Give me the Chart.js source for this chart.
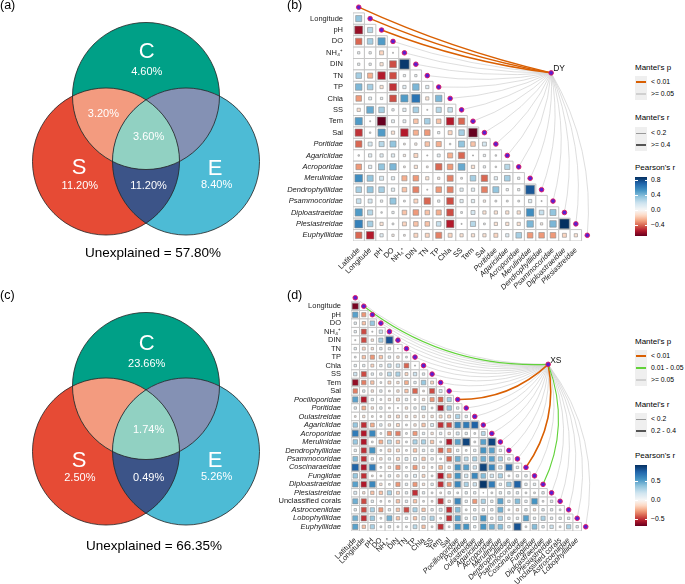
<!DOCTYPE html>
<html>
<head>
<meta charset="utf-8">
<script src="https://cdn.jsdelivr.net/npm/chart.js@4.4.1/dist/chart.umd.min.js"></script>
<style>
  body { margin: 0; background: #fff; }
  #fig { position: relative; width: 685px; height: 584px; overflow: hidden; font-family: "Liberation Sans", Arial, sans-serif; color: #000; }
  #fig canvas { position: absolute; }
  .txt { position: absolute; white-space: nowrap; line-height: 1; }
  .box { position: absolute; }
</style>
</head>
<body>
<div id="fig">
  <canvas id="vennA" width="292" height="270"></canvas>
  <canvas id="vennC" width="292" height="270"></canvas>
  <canvas id="heatB" width="326" height="308"></canvas>
  <canvas id="heatD" width="325" height="306"></canvas>
</div>
<script>
const FAMILY = "'Liberation Sans', Arial, sans-serif";

// (a) and (c): variation partitioning, % explained
const vennRegions = ['C', 'S', 'E', 'SC', 'CE', 'SE', 'SCE'];
const vennValuesA = [4.60, 11.20, 8.40, 3.20, null, 11.20, 3.60];
const vennValuesC = [23.66, 2.50, 5.26, null, null, 0.49, 1.74];
const unexplainedA = 57.80;
const unexplainedC = 66.35;

// Mantel categories
const P1 = '< 0.01', P2 = '0.01 - 0.05', P3 = '>= 0.05';
const R1 = '< 0.2', R2 = '0.2 - 0.4', R3 = '>= 0.4';

// (b) DY
const varsB = ['Latitude', 'Longitude', 'pH', 'DO', 'NH₄⁺', 'DIN', 'TN', 'TP', 'Chla', 'SS', 'Tem', 'Sal',
  'Poritidae', 'Agariciidae', 'Acroporidae', 'Merulinidae', 'Dendrophylliidae', 'Psammocoridae',
  'Diploastraeidae', 'Plesiastreidae', 'Euphylliidae'];
const corrB = [
  [0.35],
  [-0.6, 0.25],
  [-0.4, 0.3, 0.5],
  [0.05, 0.05, -0.15, 0.01],
  [0.05, 0.05, -0.1, -0.45, 0.85],
  [0.3, -0.25, -0.55, -0.45, 0.05, 0.05],
  [0.4, 0.3, -0.1, -0.5, 0.1, 0.4, 0.1],
  [-0.3, 0.08, 0.05, -0.45, 0.5, 0.65, -0.1, 0.4],
  [-0.1, 0.45, 0.3, 0.05, 0.1, 0.3, 0.01, 0.25, 0.2],
  [0.5, 0.01, -0.7, 0.08, 0.08, -0.2, 0.3, -0.2, -0.55, -0.4],
  [-0.5, 0.02, 0.5, -0.1, -0.55, -0.25, -0.3, 0.05, -0.15, 0.3, -0.7],
  [-0.4, 0.15, 0.25, 0.35, -0.03, -0.05, -0.2, -0.25, 0.02, 0.35, -0.2, 0.15],
  [0.02, 0.1, 0.1, 0.1, -0.05, -0.15, 0.01, 0.08, -0.25, -0.4, 0.01, 0.05, 0.02],
  [-0.3, 0.1, 0.35, 0.4, -0.03, -0.1, -0.03, -0.4, -0.3, 0.45, -0.1, 0.05, 0.02, 0.25],
  [0.55, 0.35, 0.15, 0.1, -0.25, -0.3, -0.1, -0.05, -0.35, 0.03, 0.3, -0.4, 0.1, 0.3, 0.05],
  [0.3, 0.35, 0.3, 0.1, -0.2, -0.35, 0.01, -0.3, -0.35, 0.1, 0.1, -0.35, 0.35, 0.05, 0.05, 0.75],
  [0.2, 0.15, 0.05, 0.35, 0.03, -0.15, -0.4, 0.05, -0.45, 0.1, 0.1, -0.05, 0.03, 0.03, 0.03, 0.1, 0.01],
  [0.5, 0.25, 0.02, 0.05, -0.2, -0.3, -0.2, -0.25, -0.45, 0.03, 0.15, -0.1, -0.1, -0.1, -0.1, 0.55, 0.2, 0.35],
  [0.6, 0.3, -0.1, 0.03, -0.15, -0.2, -0.2, 0.2, -0.55, 0.01, 0.25, 0.03, -0.1, -0.1, -0.1, 0.4, -0.05, 0.4, 0.88],
  [-0.4, -0.55, 0.1, -0.05, -0.03, -0.15, -0.15, -0.35, -0.15, -0.1, -0.1, -0.1, -0.15, 0.1, 0.3, -0.3, -0.3, -0.3, -0.15, -0.1]
];
const mantelPB = [P1, P1, P1, P3, P3, P3, P3, P3, P3, P3, P3, P3, P3, P3, P3, P3, P3, P3, P3, P3, P3];
const mantelRB = [R3, R3, R3, R1, R1, R1, R1, R1, R1, R1, R1, R1, R1, R1, R1, R1, R1, R1, R1, R1, R1];

// (d) XS
const varsD = ['Latitude', 'Longitude', 'pH', 'DO', 'NH₄⁺', 'DIN', 'TN', 'TP', 'Chla', 'SS', 'Tem', 'Sal',
  'Pocilloporidae', 'Poritidae', 'Oulastreidae', 'Agariciidae', 'Acroporidae', 'Merulinidae',
  'Dendrophylliidae', 'Psammocoridae', 'Coscinaraeidae', 'Fungiidae', 'Diploastraeidae', 'Plesiastreidae',
  'Unclassified corals', 'Astrocoeniidae', 'Lobophylliidae', 'Euphylliidae'];
const corrD = [
  [-0.65],
  [0.5, -0.3],
  [0.1, -0.2, 0.35],
  [0.1, -0.45, 0.02, 0.2],
  [0.02, -0.45, -0.1, 0.3, 0.8],
  [0.1, -0.15, -0.1, 0.1, 0.1, 0.01],
  [0.05, -0.2, -0.3, -0.2, 0.1, -0.1, 0.05],
  [0.1, 0.1, -0.15, 0.1, 0.2, 0.2, -0.4, 0.02],
  [0.2, -0.45, 0.1, 0.1, 0.25, 0.3, -0.15, 0.2, 0.1],
  [-0.6, -0.35, -0.2, 0.05, -0.15, -0.1, -0.25, 0.1, 0.35, -0.15],
  [-0.35, 0.1, -0.1, 0.1, -0.05, -0.1, -0.2, -0.4, -0.05, -0.45, 0.15],
  [0.5, -0.55, 0.1, 0.05, -0.1, -0.15, 0.1, -0.05, -0.1, -0.3, -0.4, 0.3],
  [0.1, -0.25, -0.1, 0.1, -0.05, 0.02, -0.1, 0.1, 0.25, 0.05, -0.55, 0.35, 0.1],
  [-0.05, -0.1, -0.05, -0.05, -0.1, -0.15, -0.1, -0.1, -0.1, -0.1, -0.15, -0.15, 0.3, 0.1],
  [0.35, -0.5, -0.25, 0.1, -0.1, -0.15, 0.05, -0.1, -0.2, 0.15, -0.5, -0.45, 0.6, 0.65, 0.75],
  [0.65, -0.55, 0.6, 0.05, -0.3, -0.35, 0.05, -0.3, 0.1, -0.1, 0.1, -0.1, 0.15, 0.1, 0.05, 0.25],
  [0.35, -0.55, 0.05, -0.25, 0.25, -0.2, 0.05, 0.3, 0.3, -0.2, 0.05, -0.55, 0.5, 0.85, 0.05, 0.5, 0.85],
  [0.1, -0.5, 0.55, 0.05, -0.15, -0.15, 0.05, -0.2, 0.1, 0.1, -0.4, -0.3, 0.1, 0.05, 0.1, 0.55, 0.5, 0.1],
  [0.4, -0.5, 0.1, -0.1, 0.1, -0.15, 0.15, 0.15, -0.2, 0.1, 0.05, -0.4, 0.45, 0.25, 0.3, 0.45, 0.5, 0.3, 0.1],
  [0.75, -0.55, 0.65, 0.05, -0.1, -0.3, 0.05, -0.3, -0.1, 0.05, -0.25, -0.1, 0.55, 0.5, 0.2, 0.85, 0.6, 0.2, 0.7, 0.1],
  [0.35, -0.5, -0.05, -0.05, 0.1, -0.1, 0.1, 0.15, -0.15, 0.05, -0.55, -0.3, 0.55, 0.2, 0.6, 0.4, 0.2, 0.3, 0.05, 0.1, 0.1],
  [0.5, -0.55, 0.6, -0.1, 0.05, -0.3, 0.1, -0.3, -0.1, 0.1, -0.5, -0.3, 0.6, 0.3, 0.2, 0.9, 0.65, 0.1, 0.35, 0.75, 0.1, 0.1],
  [0.15, -0.1, -0.2, -0.2, 0.3, -0.15, 0.1, -0.5, 0.1, 0.05, -0.05, 0.1, 0.05, 0.1, 0.1, 0.01, 0.05, 0.1, 0.1, 0.1, 0.05, 0.05, 0.1],
  [0.45, -0.45, 0.1, 0.05, 0.05, -0.2, 0.1, -0.2, 0.05, -0.05, -0.5, -0.1, 0.6, 0.1, -0.3, 0.3, 0.1, 0.5, 0.1, 0.4, 0.1, 0.55, 0.05, 0.1],
  [0.1, -0.45, 0.3, -0.3, 0.1, -0.2, -0.45, 0.3, -0.2, 0.1, 0.15, -0.5, 0.4, 0.05, 0.1, 0.1, 0.1, 0.45, 0.05, -0.1, 0.1, -0.1, 0.1, 0.1, 0.05],
  [0.45, -0.5, 0.35, 0.05, 0.45, -0.2, 0.1, -0.2, 0.2, 0.3, 0.05, -0.5, 0.5, 0.1, 0.2, 0.55, 0.1, 0.3, 0.1, 0.1, 0.5, 0.1, 0.3, 0.1, 0.1, 0.1],
  [0.5, -0.2, 0.3, 0.05, 0.1, 0.05, 0.05, 0.25, -0.2, 0.05, -0.5, 0.05, 0.55, 0.55, 0.1, 0.55, 0.45, 0.4, 0.1, 0.8, 0.05, 0.4, 0.1, 0.2, 0.05, 0.3, 0.1]
];
const mantelPD = [P3, P2, P3, P3, P3, P3, P3, P3, P3, P3, P3, P3, P1, P3, P3, P3, P3, P3, P3, P3, P1, P3, P2, P3, P3, P3, P3, P3];
const mantelRD = [R1, R1, R1, R1, R1, R1, R1, R1, R1, R1, R1, R1, R2, R1, R1, R1, R1, R1, R1, R1, R2, R1, R1, R1, R1, R1, R1, R1];

const plainLabels = new Set(['Latitude', 'Longitude', 'pH', 'DO', 'NH₄⁺', 'DIN', 'TN', 'TP', 'Chla', 'SS', 'Tem', 'Sal', 'Unclassified corals']);

const pColors = { [P1]: '#D95F02', [P2]: '#62D23A', [P3]: '#D0D0D0' };
const rWidths = { [R1]: 0.7, [R2]: 1.6, [R3]: 1.4 };
const rKeyColors = { [R1]: '#999999', [R2]: '#555555', [R3]: '#555555' };
const rKeyWidths = { [R1]: 1, [R2]: 1.8, [R3]: 1.8 };

const rdbu = ['#67001F', '#B2182B', '#D6604D', '#F4A582', '#FDDBC7', '#F7F7F7',
  '#D1E5F0', '#92C5DE', '#4393C3', '#2166AC', '#053061'];
const hexRgb = h => [1, 3, 5].map(i => parseInt(h.slice(i, i + 2), 16));

function corrColor(v, lo, hi) {
  const t = v < 0 ? 5 - 5 * Math.min(v / lo, 1) : 5 + 5 * Math.min(v / hi, 1);
  const i = Math.min(Math.floor(t), 9), f = t - i;
  const a = hexRgb(rdbu[i]), b = hexRgb(rdbu[i + 1]);
  return 'rgb(' + a.map((c, k) => Math.round(c + (b[k] - c) * f)).join(',') + ')';
}

// ---------- Venn panels ----------
const vennCenters = { C: [0, 0.449], S: [-0.544, -0.442], E: [0.544, -0.442] };
const vennFill = { C: '#00A087', S: '#E64B35', E: '#4DBBD5', SC: '#F39B7F', CE: '#8491B4', SE: '#3C5488', SCE: '#91D1C2' };
const vennLetterPos = { C: [0.01, 1.05], S: [-0.91, -0.53], E: [0.94, -0.54] };
const vennLabelPos = { C: [0.01, 0.78], S: [-0.9, -0.77], E: [0.96, -0.76], SC: [-0.58, 0.2], CE: [0.58, 0.2], SE: [0.035, -0.77], SCE: [0.035, -0.11] };

const unitPx = chart => chart.scales.x.getPixelForValue(1) - chart.scales.x.getPixelForValue(0);

function vennOverlay(values, shift) {
  return {
    id: 'vennOverlay',
    afterDatasetsDraw(chart) {
      const { ctx, scales: { x, y } } = chart;
      const R = unitPx(chart);
      const circle = s => {
        ctx.beginPath();
        ctx.arc(x.getPixelForValue(vennCenters[s][0]), y.getPixelForValue(vennCenters[s][1]), R, 0, Math.PI * 2);
      };
      const overlap = (sets, color) => {
        ctx.save();
        sets.slice(0, -1).forEach(s => { circle(s); ctx.clip(); });
        circle(sets[sets.length - 1]);
        ctx.fillStyle = color;
        ctx.fill();
        ctx.restore();
      };
      overlap(['S', 'C'], vennFill.SC);
      overlap(['C', 'E'], vennFill.CE);
      overlap(['S', 'E'], vennFill.SE);
      overlap(['S', 'C', 'E'], vennFill.SCE);

      ctx.save();
      ctx.strokeStyle = '#222';
      ctx.lineWidth = 0.8;
      ['S', 'C', 'E'].forEach(s => { circle(s); ctx.stroke(); });
      ctx.fillStyle = '#fff';
      ctx.textAlign = 'center';
      ctx.textBaseline = 'middle';
      ctx.font = `22px ${FAMILY}`;
      Object.keys(vennLetterPos).forEach(s => {
        const p = vennLetterPos[s];
        ctx.fillText(s, x.getPixelForValue(p[0]), y.getPixelForValue(p[1]) + shift);
      });
      ctx.font = `11px ${FAMILY}`;
      vennRegions.forEach((reg, i) => {
        if (values[i] == null) return;
        const p = vennLabelPos[reg];
        ctx.fillText(values[i].toFixed(2) + '%', x.getPixelForValue(p[0]), y.getPixelForValue(p[1]) + shift);
      });
      ctx.restore();
    }
  };
}

function makeVenn(id, values, top, shift) {
  const cv = document.getElementById(id);
  cv.style.left = '0px';
  cv.style.top = top + 'px';
  const sets = ['S', 'C', 'E'];
  return new Chart(cv, {
    type: 'scatter',
    data: {
      datasets: [{
        data: sets.map(s => ({ x: vennCenters[s][0], y: vennCenters[s][1] })),
        backgroundColor: sets.map(s => vennFill[s]),
        borderWidth: 0,
        pointStyle: 'circle',
        radius: ctx => ctx.chart.scales.x ? unitPx(ctx.chart) : 0
      }]
    },
    options: {
      responsive: false,
      animation: false,
      events: [],
      layout: { padding: 0 },
      plugins: { legend: { display: false }, tooltip: { enabled: false } },
      scales: {
        x: { type: 'linear', display: false, min: -1.986, max: 1.986 },
        y: { type: 'linear', display: false, min: -1.918, max: 1.755 }
      }
    },
    plugins: [vennOverlay(values, shift)]
  });
}

// ---------- correlation + Mantel panels ----------
function linkPlugin(P) {
  return {
    id: 'mantelLinks',
    beforeDatasetsDraw(chart) {
      const { ctx, scales: { x, y } } = chart;
      const ax = x.getPixelForValue(P.anchor.x), ay = y.getPixelForValue(P.anchor.y);
      const n = P.vars.length;
      const order = P.vars.map((_, k) => k)
        .sort((a, b) => (P.mantelP[a] === P3 ? 0 : 1) - (P.mantelP[b] === P3 ? 0 : 1));
      ctx.save();
      ctx.lineCap = 'round';
      order.forEach(k => {
        const dx = x.getPixelForValue(k), dy = y.getPixelForValue(k - 1);
        const vx = dx - ax, vy = dy - ay;
        const bend = P.curv[0] + (P.curv[1] - P.curv[0]) * k / (n - 1);
        const cx = (ax + dx) / 2 + bend * vy, cy = (ay + dy) / 2 - bend * vx;
        ctx.beginPath();
        ctx.moveTo(ax, ay);
        ctx.quadraticCurveTo(cx, cy, dx, dy);
        ctx.strokeStyle = pColors[P.mantelP[k]];
        const w = rWidths[P.mantelR[k]];
        ctx.lineWidth = P.mantelP[k] === P3 ? w : Math.max(w, 1.1);
        ctx.stroke();
      });
      ctx.restore();
    },
    afterDatasetsDraw(chart) {
      const { ctx, scales: { x, y } } = chart;
      ctx.save();
      ctx.fillStyle = '#111';
      ctx.font = `8.5px ${FAMILY}`;
      ctx.textAlign = 'left';
      ctx.textBaseline = 'alphabetic';
      ctx.fillText(P.anchorLabel, x.getPixelForValue(P.anchor.x) + 2, y.getPixelForValue(P.anchor.y) - 1.5);
      ctx.restore();
    }
  };
}

function heatmap(id, P) {
  const n = P.vars.length;
  const cells = [];
  P.corr.forEach((row, r) => row.forEach((v, j) => cells.push({ x: j, y: r, v })));
  const nodes = P.vars.map((_, k) => ({ x: k, y: k - 1 }));
  const pitch = c => Math.abs(c.scales.x.getPixelForValue(1) - c.scales.x.getPixelForValue(0));
  const tickFont = label => ({ family: FAMILY, size: P.fontSize, style: plainLabels.has(label) ? 'normal' : 'italic' });
  const nodeStyle = { pointStyle: 'circle', radius: 2.3, backgroundColor: '#5A1FD0', borderColor: '#E3175D', borderWidth: 0.9 };
  const cv = document.getElementById(id);
  const chart = new Chart(cv, {
    type: 'scatter',
    data: {
      datasets: [
        { data: cells.slice(), order: 4, pointStyle: 'rect', backgroundColor: '#fff', borderColor: '#c6c6c6', borderWidth: 1,
          radius: c => pitch(c.chart) / Math.SQRT2 },
        { data: cells.slice(), order: 3, pointStyle: 'rect', borderColor: '#8c8c8c', borderWidth: 0.6,
          radius: c => c.raw ? pitch(c.chart) * 0.9 * Math.sqrt(Math.abs(c.raw.v)) / Math.SQRT2 : 0,
          backgroundColor: c => c.raw ? corrColor(c.raw.v, P.lo, P.hi) : '#fff' },
        Object.assign({ data: nodes, order: 2 }, nodeStyle),
        Object.assign({ data: [P.anchor], order: 1 }, nodeStyle)
      ]
    },
    options: {
      responsive: false,
      animation: false,
      events: [],
      layout: { padding: { top: 6, right: 6, left: 0, bottom: 0 } },
      plugins: { legend: { display: false }, tooltip: { enabled: false } },
      scales: {
        x: {
          type: 'linear', min: -0.5, max: n - 0.5,
          grid: { display: false }, border: { display: false },
          afterBuildTicks: s => { s.ticks = P.vars.slice(0, -1).map((_, i) => ({ value: i })); },
          afterFit: s => { s.height = 62; },
          ticks: {
            autoSkip: false, minRotation: 45, maxRotation: 45, padding: -3, color: '#1a1a1a',
            callback: v => P.vars[v],
            font: c => tickFont(c.tick ? P.vars[c.tick.value] : '')
          }
        },
        y: {
          type: 'linear', reverse: true, min: -1.5, max: n - 1.5,
          grid: { display: false }, border: { display: false },
          afterBuildTicks: s => { s.ticks = P.vars.slice(1).map((_, i) => ({ value: i })); },
          afterFit: s => { s.width = 80; },
          ticks: {
            autoSkip: false, padding: 2, color: '#1a1a1a',
            callback: v => P.vars[v + 1],
            font: c => tickFont(c.tick ? P.vars[c.tick.value + 1] : '')
          }
        }
      }
    },
    plugins: [linkPlugin(P)]
  });
  const area = chart.chartArea;
  cv.style.left = (P.target.left - area.left) + 'px';
  cv.style.top = (P.target.top - area.top) + 'px';
  return chart;
}

// ---------- html text / legends ----------
const fig = document.getElementById('fig');
function addText(txt, x, base, size, css) {
  const d = document.createElement('div');
  d.className = 'txt';
  d.textContent = txt;
  d.style.left = x + 'px';
  d.style.top = (base - 0.8465 * size).toFixed(2) + 'px';
  d.style.fontSize = size + 'px';
  if (css) Object.assign(d.style, css);
  fig.appendChild(d);
}
function addBox(x, y, w, h, bg) {
  const d = document.createElement('div');
  d.className = 'box';
  Object.assign(d.style, { left: x + 'px', top: y + 'px', width: w + 'px', height: h + 'px', background: bg });
  fig.appendChild(d);
}
function barGradient(lo, hi) {
  const stops = [];
  for (let i = 0; i <= 30; i++) {
    const v = hi - (hi - lo) * i / 30;
    stops.push(`${corrColor(v, lo, hi)} ${(i / 30 * 100).toFixed(1)}%`);
  }
  return `linear-gradient(to bottom, ${stops.join(', ')})`;
}
function drawLegend(L) {
  const x = 635;
  addText("Mantel's p", x, L.pBase, 8);
  addBox(x, L.pBox, 12, 12 * L.pLevels.length, '#efefef');
  L.pLevels.forEach((lev, i) => {
    const cy = L.pBox + 6 + 12 * i;
    addBox(x + 1, cy - 0.6, 10, 1.2, pColors[lev]);
    addText(lev, x + 16, cy + 2.4, 6.8);
  });
  addText("Mantel's r", x, L.rBase, 8);
  addBox(x, L.rBox, 12, 12 * L.rLevels.length, '#efefef');
  L.rLevels.forEach((lev, i) => {
    const cy = L.rBox + 6 + 12 * i;
    const w = rKeyWidths[lev];
    addBox(x + 1, cy - w / 2, 10, w, rKeyColors[lev]);
    addText(lev, x + 16, cy + 2.4, 6.8);
  });
  addText("Pearson's r", x, L.cBase, 8);
  addBox(x, L.cTop, 12, L.cH, barGradient(L.lo, L.hi));
  L.ticks.forEach(v => {
    const y = L.cTop + (L.hi - v) / (L.hi - L.lo) * L.cH;
    addBox(x, y - 0.4, 2.5, 0.8, '#fff');
    addBox(x + 9.5, y - 0.4, 2.5, 0.8, '#fff');
    addText((v < 0 ? '\u2212' : '') + Math.abs(v).toFixed(1), x + 16, y + 2.4, 6.8);
  });
}

makeVenn('vennA', vennValuesA, 0, 0);
makeVenn('vennC', vennValuesC, 290, 2.5);

heatmap('heatB', {
  vars: varsB, corr: corrB, mantelP: mantelPB, mantelR: mantelRB,
  anchor: { x: 16.84, y: 4.76 }, anchorLabel: 'DY', curv: [0.05, 0.16],
  lo: -0.69, hi: 0.88, fontSize: 7.5, target: { left: 352.6, top: 1.2 }
});
heatmap('heatD', {
  vars: varsD, corr: corrD, mantelP: mantelPD, mantelR: mantelRD,
  anchor: { x: 22.6, y: 6.85 }, anchorLabel: 'XS', curv: [0.18, 0.22],
  lo: -0.68, hi: 0.92, fontSize: 7.5, target: { left: 350.7, top: 293.9 }
});

addText('(a)', 0, 10, 12.5);
addText('(b)', 287, 10, 12.5);
addText('(c)', 0, 300, 12.5);
addText('(d)', 287, 300, 12.5);
addText(`Unexplained = ${unexplainedA.toFixed(2)}%`, 153, 257, 13.5, { transform: 'translateX(-50%)' });
addText(`Unexplained = ${unexplainedC.toFixed(2)}%`, 154, 550, 13.5, { transform: 'translateX(-50%)' });

drawLegend({ pBase: 71, pBox: 76, pLevels: [P1, P3], rBase: 121, rBox: 127, rLevels: [R1, R3],
  cBase: 171, cTop: 177, cH: 59, lo: -0.69, hi: 0.88, ticks: [0.8, 0.4, 0, -0.4] });
drawLegend({ pBase: 345, pBox: 350, pLevels: [P1, P2, P3], rBase: 408, rBox: 413, rLevels: [R1, R2],
  cBase: 459, cTop: 465, cH: 61, lo: -0.68, hi: 0.92, ticks: [0.5, 0, -0.5] });
</script>
</body>
</html>
